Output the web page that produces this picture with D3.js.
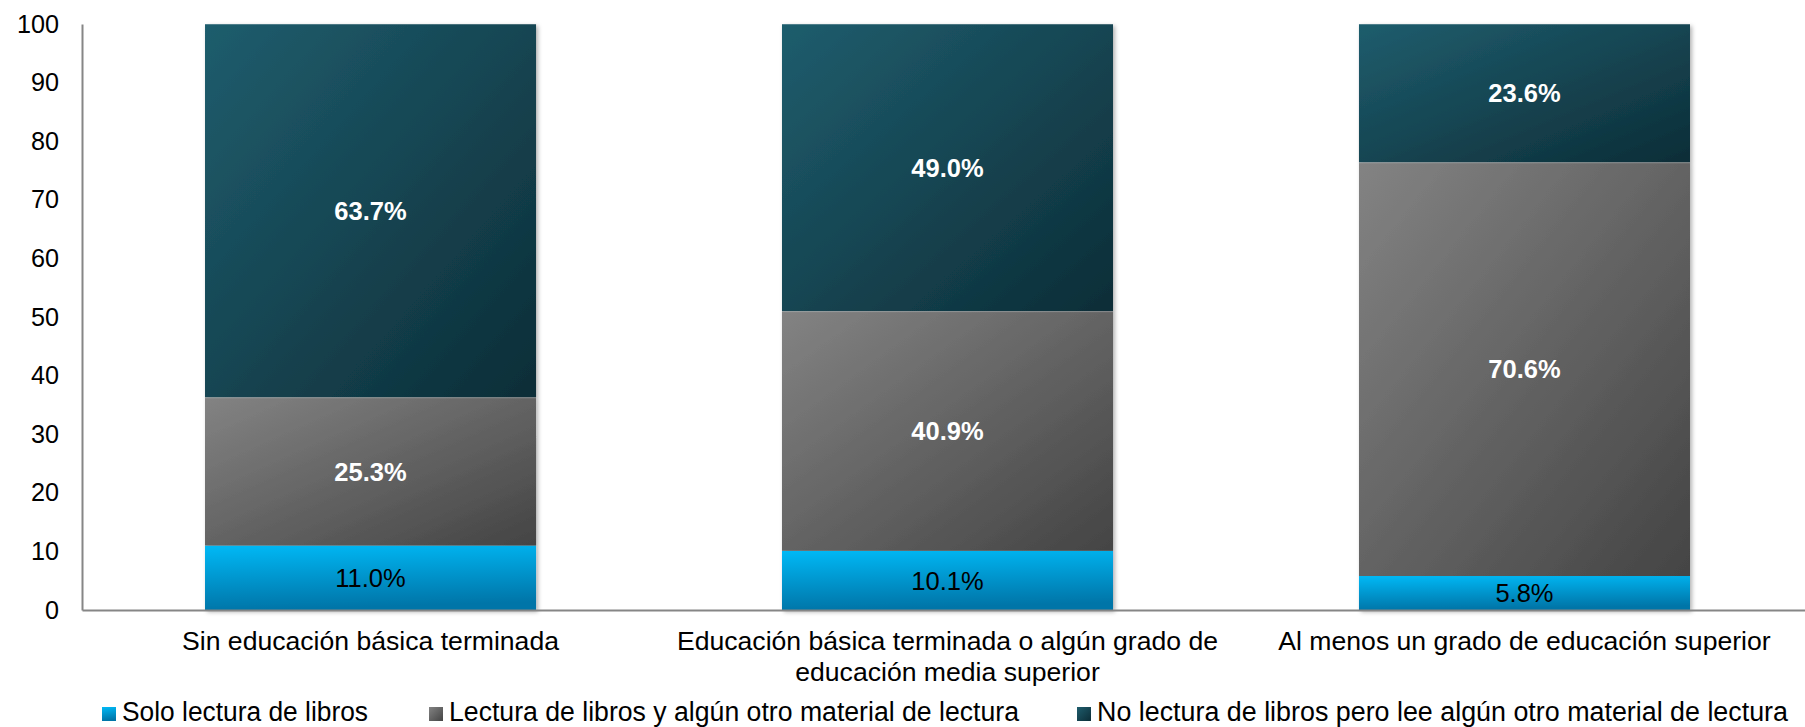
<!DOCTYPE html>
<html>
<head>
<meta charset="utf-8">
<script src="https://cdn.jsdelivr.net/npm/d3@7"></script>
<style>
  html, body { margin: 0; padding: 0; background: #ffffff; }
  svg { display: block; font-family: "Liberation Sans", Arial, sans-serif; }
</style>
</head>
<body>
<svg id="chart" width="1805" height="727"></svg>
<script>
// ---- data ----
const categories = [
  ["Sin educación básica terminada"],
  ["Educación básica terminada o algún grado de", "educación media superior"],
  ["Al menos un grado de educación superior"]
];
const categoryKeys = ["c1", "c2", "c3"];
const seriesNames = [
  "Solo lectura de libros",
  "Lectura de libros y algún otro material de lectura",
  "No lectura de libros pero lee algún otro material de lectura"
];
const soloLibros = [11.0, 10.1, 5.8];
const librosYOtro = [25.3, 40.9, 70.6];
const noLibros = [63.7, 49.0, 23.6];
const yTicks = [0, 10, 20, 30, 40, 50, 60, 70, 80, 90, 100];

// ---- layout ----
const W = 1805, H = 727;
const plot = { left: 82, top: 24, bottom: 610, right: 1813 };
const svg = d3.select("#chart");

const x = d3.scaleBand().domain(categoryKeys)
  .range([plot.left, plot.right]).paddingInner(0.4263).paddingOuter(0.2132);
const y = d3.scaleLinear().domain([0, 100]).range([plot.bottom, plot.top]);

// ---- gradients & filters ----
const defs = svg.append("defs");
const gradSpecs = [
  { id: "gBlue", x2: 0.15, y2: 1, stops: ["#00b9f6", "#0075a8"] },
  { id: "gGray", x2: 1, y2: 1, stops: ["#838383", "#444444"] },
  { id: "gTeal", x2: 1, y2: 1, stops: ["#1f5d6d", "#0c2d37"] }
];
gradSpecs.forEach(g => {
  const lg = defs.append("linearGradient").attr("id", g.id)
    .attr("x1", 0).attr("y1", 0).attr("x2", g.x2).attr("y2", g.y2);
  lg.append("stop").attr("offset", "0%").attr("stop-color", g.stops[0]);
  lg.append("stop").attr("offset", "100%").attr("stop-color", g.stops[1]);
});
const f = defs.append("filter").attr("id", "shadow")
  .attr("x", "-5%").attr("y", "-5%").attr("width", "115%").attr("height", "115%");
f.append("feDropShadow").attr("dx", 2).attr("dy", 2).attr("stdDeviation", 2)
  .attr("flood-color", "#000").attr("flood-opacity", 0.3);

const fills = ["url(#gBlue)", "url(#gGray)", "url(#gTeal)"];
const seriesValues = [soloLibros, librosYOtro, noLibros];

// ---- stack ----
const rows = categoryKeys.map((k, i) => ({ key: k, s0: soloLibros[i], s1: librosYOtro[i], s2: noLibros[i] }));
const stacked = d3.stack().keys(["s0", "s1", "s2"])(rows);

// bars with shadow
const barG = svg.append("g");
categoryKeys.forEach((k, i) => {
  const g = barG.append("g").attr("filter", "url(#shadow)");
  stacked.forEach((layer, si) => {
    const d = layer[i];
    g.append("rect")
      .attr("x", x(k)).attr("width", x.bandwidth())
      .attr("y", y(d[1])).attr("height", y(d[0]) - y(d[1]))
      .attr("fill", fills[si]);
  });
  // faint separators
  stacked.forEach((layer, si) => {
    if (si === 0) return;
    const d = layer[i];
    g.append("line")
      .attr("x1", x(k)).attr("x2", x(k) + x.bandwidth())
      .attr("y1", y(d[1]) + 0.5).attr("y2", y(d[1]) + 0.5)
      .attr("stroke", "rgba(255,255,255,0.22)").attr("stroke-width", 1);
  });
});

// data labels
stacked.forEach((layer, si) => {
  layer.forEach((d, i) => {
    const k = categoryKeys[i];
    svg.append("text")
      .attr("x", x(k) + x.bandwidth() / 2)
      .attr("y", y((d[0] + d[1]) / 2))
      .attr("dy", "0.36em")
      .attr("text-anchor", "middle")
      .attr("font-size", 25.5)
      .attr("font-weight", si === 0 ? "normal" : "bold")
      .attr("fill", si === 0 ? "#000" : "#fff")
      .text(seriesValues[si][i].toFixed(1) + "%");
  });
});

// axes
const yAxis = d3.axisLeft(y).tickValues(yTicks).tickSize(0).tickPadding(23);
const yg = svg.append("g").attr("transform", `translate(${plot.left},0)`).call(yAxis);
yg.select(".domain").attr("stroke", "#868686").attr("stroke-width", 2);
yg.selectAll("text").attr("font-size", 25.2).attr("fill", "#000")
  .attr("font-family", "'Liberation Sans', Arial, sans-serif");

const xAxis = d3.axisBottom(x).tickSize(0).tickFormat(() => "");
const xg = svg.append("g").attr("transform", `translate(0,${plot.bottom})`).call(xAxis);
xg.select(".domain").attr("stroke", "#868686").attr("stroke-width", 2);

// category labels
categoryKeys.forEach((k, i) => {
  const t = svg.append("text")
    .attr("x", x(k) + x.bandwidth() / 2)
    .attr("y", 650)
    .attr("text-anchor", "middle")
    .attr("font-size", 26.6)
    .attr("fill", "#000");
  categories[i].forEach((line, li) => {
    t.append("tspan").attr("x", x(k) + x.bandwidth() / 2)
      .attr("y", 650 + li * 31).text(line);
  });
});

// legend
const legendPos = [
  { sx: 102, tx: 122, tw: 246 },
  { sx: 429, tx: 449, tw: 570 },
  { sx: 1077, tx: 1097, tw: 691 }
];
const lg = svg.append("g");
seriesNames.forEach((name, i) => {
  const p = legendPos[i];
  lg.append("rect").attr("x", p.sx).attr("y", 707).attr("width", 14).attr("height", 14)
    .attr("fill", fills[i]);
  lg.append("text").attr("x", p.tx).attr("y", 720.5)
    .attr("font-size", 27).attr("fill", "#000")
    .attr("textLength", p.tw).attr("lengthAdjust", "spacingAndGlyphs")
    .text(name);
});
</script>
</body>
</html>
